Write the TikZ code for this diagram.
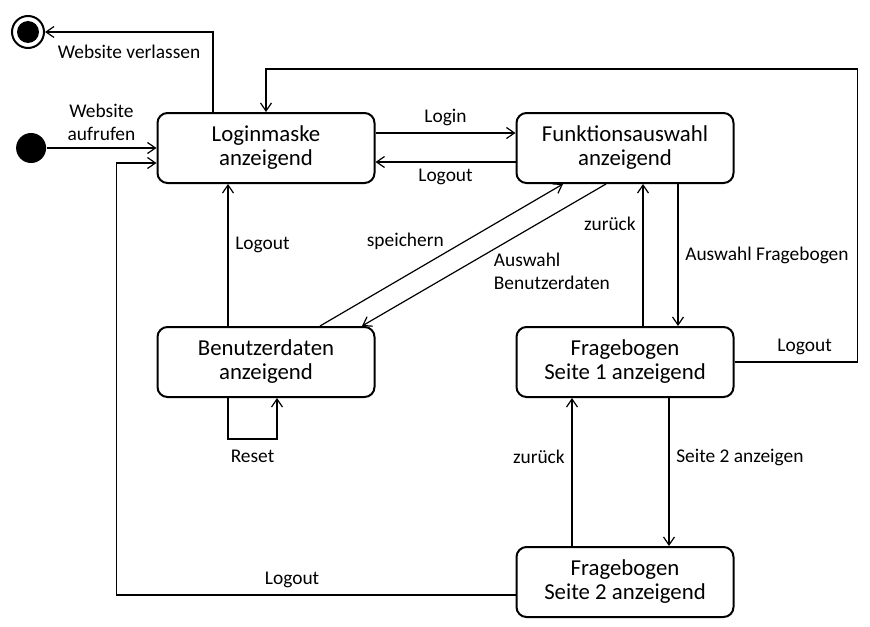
\documentclass[tikz,border=0pt]{standalone}
\usepackage{fontspec}
\setmainfont{Carlito}
\usetikzlibrary{positioning, shapes, arrows.meta}
\tikzstyle{arrow} = [line width=0.6pt,->]
\tikzstyle{state} = [draw, line width=1pt, rectangle, rounded corners=5pt,
    minimum height=35pt, minimum width=108.5pt, align=center,
    font=\fontsize{11.4}{12}\selectfont]
\tikzstyle{startstate} = [circle, fill=black, minimum size=15pt, inner sep=0pt]
\tikzstyle{endstate} = [circle, draw, line width=1pt, minimum size=16pt, inner sep=0pt,
    path picture={\fill (path picture bounding box.center) circle (5.5pt);}]

\begin{document}
\begin{tikzpicture}[auto, >={Straight Barb[length=4pt,width=5.5pt]},
    font=\fontsize{9.7}{11.5}\selectfont]
     \useasboundingbox (0,0) rectangle (435pt,-313pt);

     \node [state] (login) at (133pt,-74pt) {Loginmaske\\anzeigend};
     \node [state, right=70pt of login] (funktion) {Funktionsauswahl\\anzeigend};
     \node [state, below=71pt of login] (benutzer) {Benutzerdaten\\anzeigend};
     \node [state, below=71pt of funktion] (frage1) {Fragebogen\\Seite 1 anzeigend};
     \node [state, below=74pt of frage1] (frage2) {Fragebogen\\Seite 2 anzeigend};
     \node [startstate, left=55pt of login] (start) {};
     \node [endstate] (final) at (14pt,-16pt) {};

     % Ein- und Ausstieg
     \draw [arrow] ([xshift=-26.5pt]login.north) |- node[below, pos=0.75, yshift=-3pt] {Website verlassen} (final);
     \draw [arrow] (start) -- node[above, align=center] {Website\\aufrufen} (login);

     \draw [arrow] ([yshift=7.5pt]login.east) -- node {Login} ([yshift=7.5pt]funktion.west);
     \draw [arrow] ([yshift=-7pt]funktion.west) -- node {Logout} ([yshift=-7pt]login.east);

     % Benutzerdaten
     \draw [arrow] ([xshift=-19pt]benutzer.north) -- node[right, pos=0.57] {Logout} ([xshift=-19pt]login.south);
     \draw [arrow] ([xshift=27pt]benutzer.north) -- node[above left, pos=0.52, inner sep=1pt] {speichern} ([xshift=-31pt]funktion.south);
     \draw [arrow] ([xshift=-9.5pt]funktion.south) -- node[below right, pos=0.47, inner sep=1pt, align=left] {Auswahl\\Benutzerdaten} ([xshift=48pt]benutzer.north);
     \draw [arrow] ([xshift=-19pt]benutzer.south) -- ++(0,-20.5pt) -| node[below, pos=0.25, yshift=-2pt] {Reset} ([xshift=5.5pt]benutzer.south);

     % Fragebogen
     \draw [arrow] ([xshift=9pt]frage1.north) -- node[left, pos=0.72] {zurück} ([xshift=9pt]funktion.south);
     \draw [arrow] ([xshift=26.5pt]funktion.south) -- node[right] {Auswahl Fragebogen} ([xshift=26.5pt]frage1.north);
     \draw [arrow] (frage1.east) -- node[above, pos=0.57] {Logout} ++(61.5pt,0) |- ([yshift=21.5pt]login.north) -- (login.north);
     \draw [arrow] ([xshift=-26.5pt]frage2.north) -- node[left, pos=0.6] {zurück} ([xshift=-26.5pt]frage1.south);
     \draw [arrow] ([xshift=22pt]frage1.south) -- node[right, pos=0.4] {Seite 2 anzeigen} ([xshift=22pt]frage2.north);
     \draw [arrow] ([yshift=-6.5pt]frage2.west) -- node[above, pos=0.56] {Logout} ++(-199.5pt,0) |- ([yshift=-7.5pt]login.west);
\end{tikzpicture}
\end{document}
